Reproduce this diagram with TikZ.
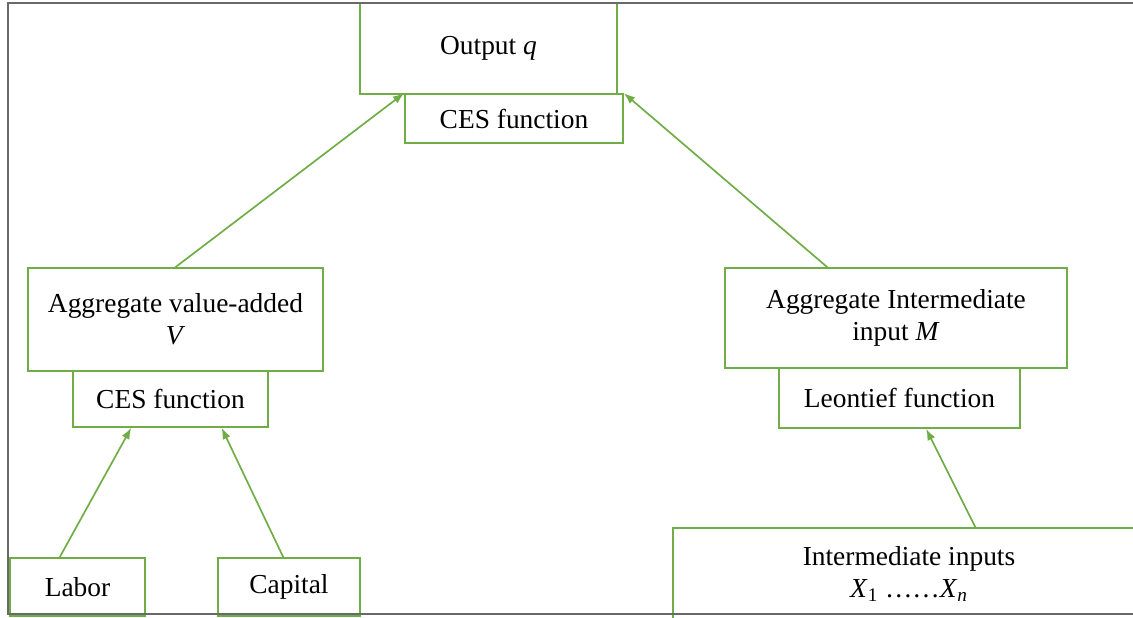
\documentclass[tikz,border=0pt]{standalone}
\usepackage{fontspec}
\setmainfont{Liberation Serif}
\usetikzlibrary{arrows.meta, positioning, calc}
\definecolor{boxgreen}{RGB}{112,173,71}
\definecolor{framegray}{RGB}{105,105,105}

\begin{document}
\begin{tikzpicture}[
    x=0.025cm, y=-0.025cm,
    box/.style={rectangle, draw=boxgreen, line width=1.2pt, fill=white, align=center, inner sep=0pt, font=\fontsize{19.5}{23}\selectfont},
    arrow/.style={draw=boxgreen, line width=1.2pt, -{Latex[length=8pt, width=6pt]}}
]
    \useasboundingbox (0,0) rectangle (1133,618);

    % Nodes
    \node[box, minimum width=6.425cm, minimum height=2.275cm] (output) at (488.5,48.5) {Output \textit{q}};
    \node[box, minimum width=5.45cm, minimum height=1.225cm] (cestop) at (514,118.5) {CES function};
    \node[box, minimum width=7.375cm, minimum height=2.575cm] (valadd) at (175.5,319.5) {Aggregate value-added\\\textit{V}};
    \node[box, minimum width=4.875cm, minimum height=1.4cm] (cesleft) at (170.5,399) {CES function};
    \node[box, minimum width=3.375cm, minimum height=1.45cm] (labor) at (77.5,587) {Labor};
    \node[box, minimum width=3.55cm, minimum height=1.45cm] (capital) at (289,587) {Capital};
    \node[box, minimum width=8.55cm, minimum height=2.5cm] (intagg) at (896,318) {Aggregate Intermediate\\input \textit{M}};
    \node[box, minimum width=6.025cm, minimum height=1.5cm] (leontief) at (899.5,398) {Leontief function};
    \node[box, minimum width=11.8cm, minimum height=2.3cm] (intinputs) at (909,574) {Intermediate inputs\\\textit{X}\textsubscript{1} \dots\dots\textit{X}\textsubscript{\textit{n}}};

    % Arrows
    \draw[arrow] (valadd.north) -- (cestop.north west);
    \draw[arrow] ($(intagg.north west)!0.3!(intagg.north east)$) -- (cestop.north east);
    \draw[arrow] ($(labor.north west)!0.37!(labor.north east)$) -- ($(cesleft.south west)!0.3!(cesleft.south east)$);
    \draw[arrow] ($(capital.north west)!0.46!(capital.north east)$) -- ($(cesleft.south west)!0.76!(cesleft.south east)$);
    \draw[arrow] ($(intinputs.north west)!0.64!(intinputs.north east)$) -- ($(leontief.south west)!0.61!(leontief.south east)$);

    % Frame
    \draw[framegray, line width=1.5pt] (1140,3) -- (8,3) -- (8,614) -- (1140,614);
\end{tikzpicture}
\end{document}
